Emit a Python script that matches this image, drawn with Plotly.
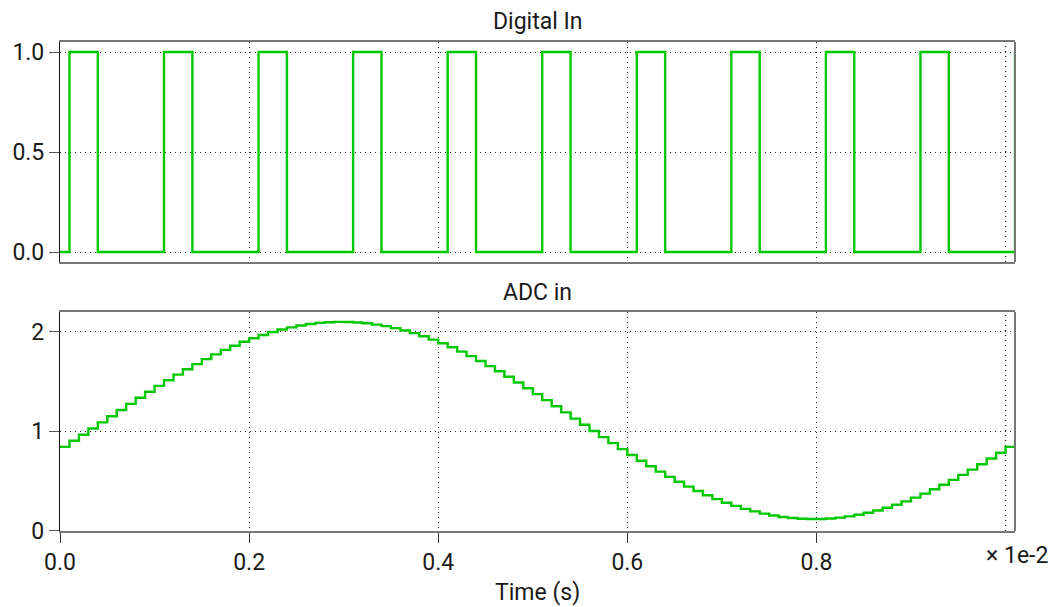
import plotly.graph_objects as go
from plotly.subplots import make_subplots

# ---- Data ----
# Digital In: edge times (s) and the level held from each time on
digital_t = [0.0, 0.0001, 0.0004, 0.0011, 0.0014, 0.0021, 0.0024, 0.0031, 0.0034,
             0.0041, 0.0044, 0.0051, 0.0054, 0.0061, 0.0064, 0.0071, 0.0074,
             0.0081, 0.0084, 0.0091, 0.0094, 0.0101]
digital_v = [0, 1, 0, 1, 0, 1, 0, 1, 0, 1, 0, 1, 0, 1, 0, 1, 0, 1, 0, 1, 0, 1]

# ADC in: sampled (zero-order hold) values, one every 0.1 ms
adc_sample_period = 1e-4
adc_v = [0.845, 0.906, 0.967, 1.029, 1.091, 1.153, 1.215, 1.277, 1.338, 1.398,
         1.457, 1.514, 1.570, 1.624, 1.676, 1.726, 1.774, 1.819, 1.861, 1.900,
         1.936, 1.968, 1.998, 2.023, 2.045, 2.064, 2.079, 2.090, 2.097, 2.100,
         2.099, 2.094, 2.086, 2.073, 2.057, 2.037, 2.014, 1.987, 1.956, 1.922,
         1.885, 1.845, 1.801, 1.756, 1.707, 1.656, 1.604, 1.549, 1.492, 1.434,
         1.375, 1.314, 1.253, 1.191, 1.129, 1.067, 1.005, 0.943, 0.882, 0.822,
         0.763, 0.706, 0.650, 0.596, 0.544, 0.494, 0.446, 0.401, 0.359, 0.320,
         0.284, 0.252, 0.222, 0.197, 0.175, 0.156, 0.141, 0.130, 0.123, 0.120,
         0.121, 0.126, 0.134, 0.147, 0.163, 0.183, 0.206, 0.233, 0.264, 0.298,
         0.335, 0.375, 0.419, 0.464, 0.513, 0.564, 0.616, 0.671, 0.728, 0.786,
         0.845, 0.906]
adc_t = [i * adc_sample_period for i in range(len(adc_v))]

x_tickvals = [0.0, 0.002, 0.004, 0.006, 0.008]
x_ticktext = ["0.0", "0.2", "0.4", "0.6", "0.8"]
y1_tickvals = [0.0, 0.5, 1.0]
y1_ticktext = ["0.0", "0.5", "1.0"]
y2_tickvals = [0, 1, 2]
y2_ticktext = ["0", "1", "2"]

titles = ["Digital In", "ADC in"]
x_title = "Time (s)"
x_scale_label = "× 1e-2"

# ---- Styling ----
GREEN = "#00c800"
FONT = "Roboto"
FS = 23
GRID = "#222222"
GRID_DASH = "1px,4px"
FRAME = "#777777"
TXT = "#1a1a1a"

fig = make_subplots(rows=2, cols=1, shared_xaxes=False, vertical_spacing=0.1)

fig.add_trace(go.Scatter(x=digital_t, y=digital_v, mode="lines", line_shape="hv",
                         line=dict(color=GREEN, width=2.4), showlegend=False),
              row=1, col=1)
fig.add_trace(go.Scatter(x=adc_t, y=adc_v, mode="lines", line_shape="hv",
                         line=dict(color=GREEN, width=2.4), showlegend=False),
              row=2, col=1)

xcommon = dict(range=[0, 0.0101], tickvals=x_tickvals, showgrid=True,
               gridcolor=GRID, griddash=GRID_DASH, gridwidth=1.3, zeroline=False,
               showline=True, linecolor=FRAME, linewidth=1.5, mirror=True)
fig.update_xaxes(**xcommon, showticklabels=False, ticks="", row=1, col=1,
                 domain=[0, 1])
fig.update_xaxes(**xcommon, ticktext=x_ticktext, ticks="outside", ticklen=10,
                 tickcolor="#333333", tickfont=dict(family=FONT, size=FS, color=TXT),
                 row=2, col=1, domain=[0, 1])

ycommon = dict(showgrid=True, gridcolor=GRID, griddash=GRID_DASH, gridwidth=1.3,
               zeroline=False, showline=True, linecolor="#111111", linewidth=1.2,
               ticks="outside", ticklen=10, tickcolor="#555555",
               tickfont=dict(family=FONT, size=FS, color=TXT))
fig.update_yaxes(**ycommon, range=[-0.05, 1.05], tickvals=y1_tickvals,
                 ticktext=y1_ticktext, row=1, col=1, domain=[0.55, 1.0])
fig.update_yaxes(**ycommon, range=[0, 2.2], tickvals=y2_tickvals,
                 ticktext=y2_ticktext, row=2, col=1, domain=[0.0, 0.448])

# right border (gray) and the grid line at x = 1.0e-2 for each panel
shapes = []
for xr, yr in (("x", "y"), ("x2", "y2")):
    shapes.append(dict(type="line", xref=xr + " domain", yref=yr + " domain",
                       x0=1, x1=1, y0=0, y1=1,
                       line=dict(color=FRAME, width=2)))
    shapes.append(dict(type="line", xref=xr, yref=yr + " domain",
                       x0=0.01, x1=0.01, y0=0, y1=1, layer="below",
                       line=dict(color=GRID, width=1.3, dash=GRID_DASH)))
fig.update_layout(shapes=shapes)

annotations = [
    dict(text=titles[0], xref="paper", yref="paper", x=0.5, y=1.041,
         xanchor="center", yanchor="middle", showarrow=False,
         font=dict(family=FONT, size=FS, color=TXT)),
    dict(text=titles[1], xref="paper", yref="paper", x=0.5, y=0.487,
         xanchor="center", yanchor="middle", showarrow=False,
         font=dict(family=FONT, size=FS, color=TXT)),
    dict(text=x_title, xref="paper", yref="paper", x=0.5, y=-0.125,
         xanchor="center", yanchor="middle", showarrow=False,
         font=dict(family=FONT, size=FS, color=TXT)),
    dict(text=x_scale_label, xref="paper", yref="paper", x=1.0365, y=-0.051,
         xanchor="right", yanchor="middle", showarrow=False,
         font=dict(family=FONT, size=FS, color=TXT)),
]
fig.update_layout(
    annotations=annotations,
    width=1055, height=607,
    margin=dict(l=57, r=40, t=42, b=76),
    paper_bgcolor="white", plot_bgcolor="white",
    font=dict(family=FONT, size=FS, color=TXT),
)

fig.write_html("out.html",
               config={"displayModeBar": False},
               post_script="document.body.style.margin='0';"
                           "document.body.style.overflow='hidden';")
